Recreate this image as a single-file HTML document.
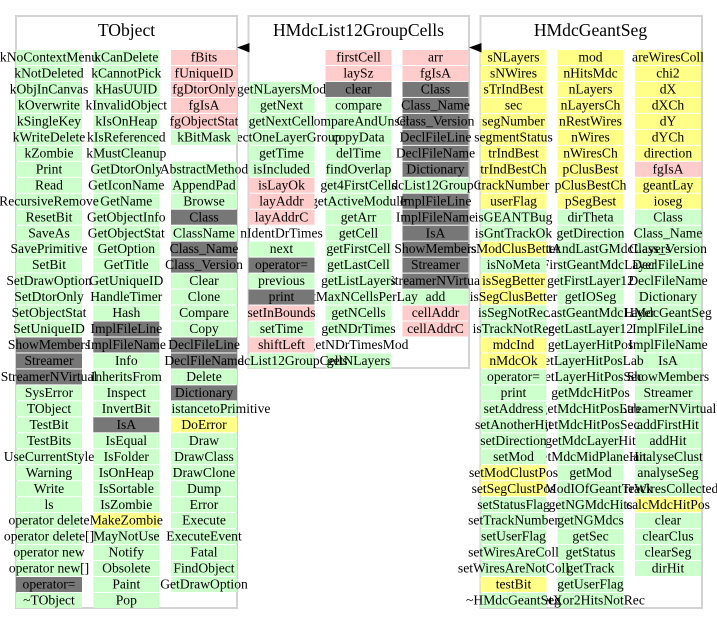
<!DOCTYPE html>
<html>
<head>
<meta charset="utf-8">
<style>
html,body{margin:0;padding:0;background:#fff;}
svg{display:block;}
text{font-family:"Liberation Serif","Times New Roman",serif;font-size:13.6px;fill:#000;text-anchor:middle;}
text.t{font-size:17.6px;}
rect.g{fill:#ccffcc;}
rect.p{fill:#ffcccc;}
rect.y{fill:#ffff88;}
rect.d{fill:#777777;}
rect.box{fill:none;stroke:#d3d3d3;stroke-width:2;}
</style>
</head>
<body>
<svg width="717" height="624" viewBox="0 0 717 624" xmlns="http://www.w3.org/2000/svg">
<rect x="0" y="0" width="717" height="624" fill="#fff"/>

<!-- ===== Middle box: HMdcList12GroupCells ===== -->
<rect class="box" x="248.5" y="16" width="220.5" height="352"/>
<text class="t" x="358.5" y="36">HMdcList12GroupCells</text>
<!-- col3 -->
<g transform="translate(402.5,50)">
<rect class="p" y="0" width="66" height="15"/><text x="33" y="11.6">arr</text>
<rect class="p" y="15.97" width="66" height="15"/><text x="33" y="27.57">fgIsA</text>
<rect class="d" y="31.94" width="66" height="15"/><text x="33" y="43.54">Class</text>
<rect class="d" y="47.91" width="66" height="15"/><text x="33" y="59.51">Class_Name</text>
<rect class="d" y="63.88" width="66" height="15"/><text x="33" y="75.48">Class_Version</text>
<rect class="d" y="79.85" width="66" height="15"/><text x="33" y="91.45">DeclFileLine</text>
<rect class="d" y="95.82" width="66" height="15"/><text x="33" y="107.42">DeclFileName</text>
<rect class="d" y="111.79" width="66" height="15"/><text x="33" y="123.39">Dictionary</text>
<rect class="g" y="127.76" width="66" height="15"/><text x="33" y="139.36">HMdcList12GroupCells</text>
<rect class="d" y="143.73" width="66" height="15"/><text x="33" y="155.33">ImplFileLine</text>
<rect class="d" y="159.7" width="66" height="15"/><text x="33" y="171.3">ImplFileName</text>
<rect class="d" y="175.67" width="66" height="15"/><text x="33" y="187.27">IsA</text>
<rect class="d" y="191.64" width="66" height="15"/><text x="33" y="203.24">ShowMembers</text>
<rect class="d" y="207.61" width="66" height="15"/><text x="33" y="219.21">Streamer</text>
<rect class="d" y="223.58" width="66" height="15"/><text x="33" y="235.18">StreamerNVirtual</text>
<rect class="g" y="239.55" width="66" height="15"/><text x="33" y="251.15">add</text>
<rect class="p" y="255.52" width="66" height="15"/><text x="33" y="267.12">cellAddr</text>
<rect class="p" y="271.49" width="66" height="15"/><text x="33" y="283.09">cellAddrC</text>
</g>
<!-- col2 -->
<g transform="translate(325.5,50)">
<rect class="p" y="0" width="66" height="15"/><text x="33" y="11.6">firstCell</text>
<rect class="p" y="15.97" width="66" height="15"/><text x="33" y="27.57">laySz</text>
<rect class="d" y="31.94" width="66" height="15"/><text x="33" y="43.54">clear</text>
<rect class="g" y="47.91" width="66" height="15"/><text x="33" y="59.51">compare</text>
<rect class="g" y="63.88" width="66" height="15"/><text x="33" y="75.48">compareAndUnset</text>
<rect class="g" y="79.85" width="66" height="15"/><text x="33" y="91.45">copyData</text>
<rect class="g" y="95.82" width="66" height="15"/><text x="33" y="107.42">delTime</text>
<rect class="g" y="111.79" width="66" height="15"/><text x="33" y="123.39">findOverlap</text>
<rect class="g" y="127.76" width="66" height="15"/><text x="33" y="139.36">get4FirstCells</text>
<rect class="g" y="143.73" width="66" height="15"/><text x="33" y="155.33">getActiveModule</text>
<rect class="g" y="159.7" width="66" height="15"/><text x="33" y="171.3">getArr</text>
<rect class="g" y="175.67" width="66" height="15"/><text x="33" y="187.27">getCell</text>
<rect class="g" y="191.64" width="66" height="15"/><text x="33" y="203.24">getFirstCell</text>
<rect class="g" y="207.61" width="66" height="15"/><text x="33" y="219.21">getLastCell</text>
<rect class="g" y="223.58" width="66" height="15"/><text x="33" y="235.18">getListLayers</text>
<rect class="g" y="239.55" width="66" height="15"/><text x="33" y="251.15">getMaxNCellsPerLay</text>
<rect class="g" y="255.52" width="66" height="15"/><text x="33" y="267.12">getNCells</text>
<rect class="g" y="271.49" width="66" height="15"/><text x="33" y="283.09">getNDrTimes</text>
<text x="33" y="299.06">getNDrTimesMod</text>
<rect class="g" y="303.43" width="66" height="15"/><text x="33" y="315.03">getNLayers</text>
</g>
<!-- col1 -->
<g transform="translate(248.5,50)">
<rect class="g" y="31.94" width="66" height="15"/><text x="33" y="43.54">getNLayersMod</text>
<rect class="g" y="47.91" width="66" height="15"/><text x="33" y="59.51">getNext</text>
<rect class="g" y="63.88" width="66" height="15"/><text x="33" y="75.48">getNextCell</text>
<rect class="g" y="79.85" width="66" height="15"/><text x="33" y="91.45">selectOneLayerGroup</text>
<rect class="g" y="95.82" width="66" height="15"/><text x="33" y="107.42">getTime</text>
<rect class="g" y="111.79" width="66" height="15"/><text x="33" y="123.39">isIncluded</text>
<rect class="p" y="127.76" width="66" height="15"/><text x="33" y="139.36">isLayOk</text>
<rect class="p" y="143.73" width="66" height="15"/><text x="33" y="155.33">layAddr</text>
<rect class="p" y="159.7" width="66" height="15"/><text x="33" y="171.3">layAddrC</text>
<text x="33" y="187.27">nIdentDrTimes</text>
<rect class="g" y="191.64" width="66" height="15"/><text x="33" y="203.24">next</text>
<rect class="d" y="207.61" width="66" height="15"/><text x="33" y="219.21">operator=</text>
<rect class="g" y="223.58" width="66" height="15"/><text x="33" y="235.18">previous</text>
<rect class="d" y="239.55" width="66" height="15"/><text x="33" y="251.15">print</text>
<rect class="p" y="255.52" width="66" height="15"/><text x="33" y="267.12">setInBounds</text>
<rect class="g" y="271.49" width="66" height="15"/><text x="33" y="283.09">setTime</text>
<rect class="p" y="287.46" width="66" height="15"/><text x="33" y="299.06">shiftLeft</text>
<rect class="g" y="303.43" width="66" height="15"/><text x="33" y="315.03">HMdcList12GroupCells</text>
</g>

<!-- ===== TObject ===== -->
<rect class="box" x="16" y="16" width="221" height="592"/>
<text class="t" x="126.5" y="36">TObject</text>
<!-- col3 -->
<g transform="translate(171,50)">
<rect class="p" y="0" width="66" height="15"/><text x="33" y="11.6">fBits</text>
<rect class="p" y="15.97" width="66" height="15"/><text x="33" y="27.57">fUniqueID</text>
<rect class="p" y="31.94" width="66" height="15"/><text x="33" y="43.54">fgDtorOnly</text>
<rect class="p" y="47.91" width="66" height="15"/><text x="33" y="59.51">fgIsA</text>
<rect class="p" y="63.88" width="66" height="15"/><text x="33" y="75.48">fgObjectStat</text>
<rect class="g" y="79.85" width="66" height="15"/><text x="33" y="91.45">kBitMask</text>
<rect class="g" y="111.79" width="66" height="15"/><text x="33" y="123.39">AbstractMethod</text>
<rect class="g" y="127.76" width="66" height="15"/><text x="33" y="139.36">AppendPad</text>
<rect class="g" y="143.73" width="66" height="15"/><text x="33" y="155.33">Browse</text>
<rect class="d" y="159.7" width="66" height="15"/><text x="33" y="171.3">Class</text>
<rect class="g" y="175.67" width="66" height="15"/><text x="33" y="187.27">ClassName</text>
<rect class="d" y="191.64" width="66" height="15"/><text x="33" y="203.24">Class_Name</text>
<rect class="d" y="207.61" width="66" height="15"/><text x="33" y="219.21">Class_Version</text>
<rect class="g" y="223.58" width="66" height="15"/><text x="33" y="235.18">Clear</text>
<rect class="g" y="239.55" width="66" height="15"/><text x="33" y="251.15">Clone</text>
<rect class="g" y="255.52" width="66" height="15"/><text x="33" y="267.12">Compare</text>
<rect class="g" y="271.49" width="66" height="15"/><text x="33" y="283.09">Copy</text>
<rect class="d" y="287.46" width="66" height="15"/><text x="33" y="299.06">DeclFileLine</text>
<rect class="d" y="303.43" width="66" height="15"/><text x="33" y="315.03">DeclFileName</text>
<rect class="g" y="319.4" width="66" height="15"/><text x="33" y="331">Delete</text>
<rect class="d" y="335.37" width="66" height="15"/><text x="33" y="346.97">Dictionary</text>
<rect class="g" y="351.34" width="66" height="15"/><text x="0.5" y="362.94" style="text-anchor:start">istancetoPrimitive</text>
<rect class="y" y="367.31" width="66" height="15"/><text x="33" y="378.91">DoError</text>
<rect class="g" y="383.28" width="66" height="15"/><text x="33" y="394.88">Draw</text>
<rect class="g" y="399.25" width="66" height="15"/><text x="33" y="410.85">DrawClass</text>
<rect class="g" y="415.22" width="66" height="15"/><text x="33" y="426.82">DrawClone</text>
<rect class="g" y="431.19" width="66" height="15"/><text x="33" y="442.79">Dump</text>
<rect class="g" y="447.16" width="66" height="15"/><text x="33" y="458.76">Error</text>
<rect class="g" y="463.13" width="66" height="15"/><text x="33" y="474.73">Execute</text>
<rect class="g" y="479.1" width="66" height="15"/><text x="33" y="490.7">ExecuteEvent</text>
<rect class="g" y="495.07" width="66" height="15"/><text x="33" y="506.67">Fatal</text>
<rect class="g" y="511.04" width="66" height="15"/><text x="33" y="522.64">FindObject</text>
<rect class="g" y="527.01" width="66" height="15"/><text x="33" y="538.61">GetDrawOption</text>
</g>
<!-- col2 -->
<g transform="translate(93.3,50)">
<rect class="g" y="0" width="66" height="15"/><text x="33" y="11.6">kCanDelete</text>
<rect class="g" y="15.97" width="66" height="15"/><text x="33" y="27.57">kCannotPick</text>
<rect class="g" y="31.94" width="66" height="15"/><text x="33" y="43.54">kHasUUID</text>
<rect class="g" y="47.91" width="66" height="15"/><text x="33" y="59.51">kInvalidObject</text>
<rect class="g" y="63.88" width="66" height="15"/><text x="33" y="75.48">kIsOnHeap</text>
<rect class="g" y="79.85" width="66" height="15"/><text x="33" y="91.45">kIsReferenced</text>
<rect class="g" y="95.82" width="66" height="15"/><text x="33" y="107.42">kMustCleanup</text>
<rect class="g" y="111.79" width="66" height="15"/><text x="33" y="123.39">GetDtorOnly</text>
<rect class="g" y="127.76" width="66" height="15"/><text x="33" y="139.36">GetIconName</text>
<rect class="g" y="143.73" width="66" height="15"/><text x="33" y="155.33">GetName</text>
<rect class="g" y="159.7" width="66" height="15"/><text x="33" y="171.3">GetObjectInfo</text>
<rect class="g" y="175.67" width="66" height="15"/><text x="33" y="187.27">GetObjectStat</text>
<rect class="g" y="191.64" width="66" height="15"/><text x="33" y="203.24">GetOption</text>
<rect class="g" y="207.61" width="66" height="15"/><text x="33" y="219.21">GetTitle</text>
<rect class="g" y="223.58" width="66" height="15"/><text x="33" y="235.18">GetUniqueID</text>
<rect class="g" y="239.55" width="66" height="15"/><text x="33" y="251.15">HandleTimer</text>
<rect class="g" y="255.52" width="66" height="15"/><text x="33" y="267.12">Hash</text>
<rect class="d" y="271.49" width="66" height="15"/><text x="33" y="283.09">ImplFileLine</text>
<rect class="d" y="287.46" width="66" height="15"/><text x="33" y="299.06">ImplFileName</text>
<rect class="g" y="303.43" width="66" height="15"/><text x="33" y="315.03">Info</text>
<rect class="g" y="319.4" width="66" height="15"/><text x="33" y="331">InheritsFrom</text>
<rect class="g" y="335.37" width="66" height="15"/><text x="33" y="346.97">Inspect</text>
<rect class="g" y="351.34" width="66" height="15"/><text x="33" y="362.94">InvertBit</text>
<rect class="d" y="367.31" width="66" height="15"/><text x="33" y="378.91">IsA</text>
<rect class="g" y="383.28" width="66" height="15"/><text x="33" y="394.88">IsEqual</text>
<rect class="g" y="399.25" width="66" height="15"/><text x="33" y="410.85">IsFolder</text>
<rect class="g" y="415.22" width="66" height="15"/><text x="33" y="426.82">IsOnHeap</text>
<rect class="g" y="431.19" width="66" height="15"/><text x="33" y="442.79">IsSortable</text>
<rect class="g" y="447.16" width="66" height="15"/><text x="33" y="458.76">IsZombie</text>
<rect class="y" y="463.13" width="66" height="15"/><text x="33" y="474.73">MakeZombie</text>
<rect class="g" y="479.1" width="66" height="15"/><text x="33" y="490.7">MayNotUse</text>
<rect class="g" y="495.07" width="66" height="15"/><text x="33" y="506.67">Notify</text>
<rect class="g" y="511.04" width="66" height="15"/><text x="33" y="522.64">Obsolete</text>
<rect class="g" y="527.01" width="66" height="15"/><text x="33" y="538.61">Paint</text>
<rect class="g" y="542.98" width="66" height="15"/><text x="33" y="554.58">Pop</text>
</g>
<!-- col1 -->
<g transform="translate(16,50)">
<rect class="g" y="0" width="66" height="15"/><text x="33" y="11.6">kNoContextMenu</text>
<rect class="g" y="15.97" width="66" height="15"/><text x="33" y="27.57">kNotDeleted</text>
<rect class="g" y="31.94" width="66" height="15"/><text x="33" y="43.54">kObjInCanvas</text>
<rect class="g" y="47.91" width="66" height="15"/><text x="33" y="59.51">kOverwrite</text>
<rect class="g" y="63.88" width="66" height="15"/><text x="33" y="75.48">kSingleKey</text>
<rect class="g" y="79.85" width="66" height="15"/><text x="33" y="91.45">kWriteDelete</text>
<rect class="g" y="95.82" width="66" height="15"/><text x="33" y="107.42">kZombie</text>
<rect class="g" y="111.79" width="66" height="15"/><text x="33" y="123.39">Print</text>
<rect class="g" y="127.76" width="66" height="15"/><text x="33" y="139.36">Read</text>
<rect class="g" y="143.73" width="66" height="15"/><text x="33" y="155.33">RecursiveRemove</text>
<rect class="g" y="159.7" width="66" height="15"/><text x="33" y="171.3">ResetBit</text>
<rect class="g" y="175.67" width="66" height="15"/><text x="33" y="187.27">SaveAs</text>
<rect class="g" y="191.64" width="66" height="15"/><text x="33" y="203.24">SavePrimitive</text>
<rect class="g" y="207.61" width="66" height="15"/><text x="33" y="219.21">SetBit</text>
<rect class="g" y="223.58" width="66" height="15"/><text x="33" y="235.18">SetDrawOption</text>
<rect class="g" y="239.55" width="66" height="15"/><text x="33" y="251.15">SetDtorOnly</text>
<rect class="g" y="255.52" width="66" height="15"/><text x="33" y="267.12">SetObjectStat</text>
<rect class="g" y="271.49" width="66" height="15"/><text x="33" y="283.09">SetUniqueID</text>
<rect class="d" y="287.46" width="66" height="15"/><text x="33" y="299.06">ShowMembers</text>
<rect class="d" y="303.43" width="66" height="15"/><text x="33" y="315.03">Streamer</text>
<rect class="d" y="319.4" width="66" height="15"/><text x="33" y="331">StreamerNVirtual</text>
<rect class="g" y="335.37" width="66" height="15"/><text x="33" y="346.97">SysError</text>
<rect class="g" y="351.34" width="66" height="15"/><text x="33" y="362.94">TObject</text>
<rect class="g" y="367.31" width="66" height="15"/><text x="33" y="378.91">TestBit</text>
<rect class="g" y="383.28" width="66" height="15"/><text x="33" y="394.88">TestBits</text>
<rect class="g" y="399.25" width="66" height="15"/><text x="33" y="410.85">UseCurrentStyle</text>
<rect class="g" y="415.22" width="66" height="15"/><text x="33" y="426.82">Warning</text>
<rect class="g" y="431.19" width="66" height="15"/><text x="33" y="442.79">Write</text>
<rect class="g" y="447.16" width="66" height="15"/><text x="33" y="458.76">ls</text>
<rect class="g" y="463.13" width="66" height="15"/><text x="33" y="474.73">operator delete</text>
<rect class="g" y="479.1" width="66" height="15"/><text x="33" y="490.7">operator delete[]</text>
<rect class="g" y="495.07" width="66" height="15"/><text x="33" y="506.67">operator new</text>
<rect class="g" y="511.04" width="66" height="15"/><text x="33" y="522.64">operator new[]</text>
<rect class="d" y="527.01" width="66" height="15"/><text x="33" y="538.61">operator=</text>
<rect class="g" y="542.98" width="66" height="15"/><text x="33" y="554.58">~TObject</text>
</g>

<!-- ===== Right box: HMdcGeantSeg ===== -->
<rect class="box" x="480.5" y="16" width="221.5" height="592"/>
<text class="t" x="590.5" y="36">HMdcGeantSeg</text>
<!-- col3 -->
<g transform="translate(635,50)">
<rect class="y" y="0" width="66" height="15"/><text x="33" y="11.6">areWiresColl</text>
<rect class="y" y="15.97" width="66" height="15"/><text x="33" y="27.57">chi2</text>
<rect class="y" y="31.94" width="66" height="15"/><text x="33" y="43.54">dX</text>
<rect class="y" y="47.91" width="66" height="15"/><text x="33" y="59.51">dXCh</text>
<rect class="y" y="63.88" width="66" height="15"/><text x="33" y="75.48">dY</text>
<rect class="y" y="79.85" width="66" height="15"/><text x="33" y="91.45">dYCh</text>
<rect class="y" y="95.82" width="66" height="15"/><text x="33" y="107.42">direction</text>
<rect class="p" y="111.79" width="66" height="15"/><text x="33" y="123.39">fgIsA</text>
<rect class="y" y="127.76" width="66" height="15"/><text x="33" y="139.36">geantLay</text>
<rect class="y" y="143.73" width="66" height="15"/><text x="33" y="155.33">ioseg</text>
<rect class="g" y="159.7" width="66" height="15"/><text x="33" y="171.3">Class</text>
<rect class="g" y="175.67" width="66" height="15"/><text x="33" y="187.27">Class_Name</text>
<rect class="g" y="191.64" width="66" height="15"/><text x="33" y="203.24">Class_Version</text>
<rect class="g" y="207.61" width="66" height="15"/><text x="33" y="219.21">DeclFileLine</text>
<rect class="g" y="223.58" width="66" height="15"/><text x="33" y="235.18">DeclFileName</text>
<rect class="g" y="239.55" width="66" height="15"/><text x="33" y="251.15">Dictionary</text>
<rect class="g" y="255.52" width="66" height="15"/><text x="33" y="267.12">HMdcGeantSeg</text>
<rect class="g" y="271.49" width="66" height="15"/><text x="33" y="283.09">ImplFileLine</text>
<rect class="g" y="287.46" width="66" height="15"/><text x="33" y="299.06">ImplFileName</text>
<rect class="g" y="303.43" width="66" height="15"/><text x="33" y="315.03">IsA</text>
<rect class="g" y="319.4" width="66" height="15"/><text x="33" y="331">ShowMembers</text>
<rect class="g" y="335.37" width="66" height="15"/><text x="33" y="346.97">Streamer</text>
<rect class="g" y="351.34" width="66" height="15"/><text x="33" y="362.94">StreamerNVirtual</text>
<rect class="g" y="367.31" width="66" height="15"/><text x="33" y="378.91">addFirstHit</text>
<rect class="g" y="383.28" width="66" height="15"/><text x="33" y="394.88">addHit</text>
<rect class="g" y="399.25" width="66" height="15"/><text x="33" y="410.85">analyseClust</text>
<rect class="g" y="415.22" width="66" height="15"/><text x="33" y="426.82">analyseSeg</text>
<rect class="g" y="431.19" width="66" height="15"/><text x="33" y="442.79">areWiresCollected</text>
<rect class="y" y="447.16" width="66" height="15"/><text x="33" y="458.76">calcMdcHitPos</text>
<rect class="g" y="463.13" width="66" height="15"/><text x="33" y="474.73">clear</text>
<rect class="g" y="479.1" width="66" height="15"/><text x="33" y="490.7">clearClus</text>
<rect class="g" y="495.07" width="66" height="15"/><text x="33" y="506.67">clearSeg</text>
<rect class="g" y="511.04" width="66" height="15"/><text x="33" y="522.64">dirHit</text>
</g>
<!-- col2 -->
<g transform="translate(557.5,50)">
<rect class="y" y="0" width="66" height="15"/><text x="33" y="11.6">mod</text>
<rect class="y" y="15.97" width="66" height="15"/><text x="33" y="27.57">nHitsMdc</text>
<rect class="y" y="31.94" width="66" height="15"/><text x="33" y="43.54">nLayers</text>
<rect class="y" y="47.91" width="66" height="15"/><text x="33" y="59.51">nLayersCh</text>
<rect class="y" y="63.88" width="66" height="15"/><text x="33" y="75.48">nRestWires</text>
<rect class="y" y="79.85" width="66" height="15"/><text x="33" y="91.45">nWires</text>
<rect class="y" y="95.82" width="66" height="15"/><text x="33" y="107.42">nWiresCh</text>
<rect class="y" y="111.79" width="66" height="15"/><text x="33" y="123.39">pClusBest</text>
<rect class="y" y="127.76" width="66" height="15"/><text x="33" y="139.36">pClusBestCh</text>
<rect class="y" y="143.73" width="66" height="15"/><text x="33" y="155.33">pSegBest</text>
<rect class="g" y="159.7" width="66" height="15"/><text x="33" y="171.3">dirTheta</text>
<rect class="g" y="175.67" width="66" height="15"/><text x="33" y="187.27">getDirection</text>
<rect class="g" y="191.64" width="66" height="15"/><text x="33" y="203.24">getFirstAndLastGMdcLayers</text>
<rect class="g" y="207.61" width="66" height="15"/><text x="33" y="219.21">getFirstGeantMdcLayer</text>
<rect class="g" y="223.58" width="66" height="15"/><text x="33" y="235.18">getFirstLayer12</text>
<rect class="g" y="239.55" width="66" height="15"/><text x="33" y="251.15">getIOSeg</text>
<rect class="g" y="255.52" width="66" height="15"/><text x="33" y="267.12">getLastGeantMdcLayer</text>
<rect class="g" y="271.49" width="66" height="15"/><text x="33" y="283.09">getLastLayer12</text>
<rect class="g" y="287.46" width="66" height="15"/><text x="33" y="299.06">getLayerHitPos</text>
<rect class="g" y="303.43" width="66" height="15"/><text x="33" y="315.03">getLayerHitPosLab</text>
<rect class="g" y="319.4" width="66" height="15"/><text x="33" y="331">getLayerHitPosSec</text>
<rect class="g" y="335.37" width="66" height="15"/><text x="33" y="346.97">getMdcHitPos</text>
<rect class="g" y="351.34" width="66" height="15"/><text x="33" y="362.94">getMdcHitPosLab</text>
<rect class="g" y="367.31" width="66" height="15"/><text x="33" y="378.91">getMdcHitPosSec</text>
<rect class="g" y="383.28" width="66" height="15"/><text x="33" y="394.88">getMdcLayerHit</text>
<rect class="g" y="399.25" width="66" height="15"/><text x="33" y="410.85">getMdcMidPlaneHit</text>
<rect class="g" y="415.22" width="66" height="15"/><text x="33" y="426.82">getMod</text>
<rect class="g" y="431.19" width="66" height="15"/><text x="33" y="442.79">getModIOfGeantTrack</text>
<rect class="g" y="447.16" width="66" height="15"/><text x="33" y="458.76">getNGMdcHits</text>
<rect class="g" y="463.13" width="66" height="15"/><text x="33" y="474.73">getNGMdcs</text>
<rect class="g" y="479.1" width="66" height="15"/><text x="33" y="490.7">getSec</text>
<rect class="g" y="495.07" width="66" height="15"/><text x="33" y="506.67">getStatus</text>
<rect class="g" y="511.04" width="66" height="15"/><text x="33" y="522.64">getTrack</text>
<rect class="g" y="527.01" width="66" height="15"/><text x="33" y="538.61">getUserFlag</text>
<rect class="g" y="542.98" width="66" height="15"/><text x="33" y="554.58">getXor2HitsNotRec</text>
</g>
<!-- col1 -->
<g transform="translate(480.5,50)">
<rect class="y" y="0" width="66" height="15"/><text x="33" y="11.6">sNLayers</text>
<rect class="y" y="15.97" width="66" height="15"/><text x="33" y="27.57">sNWires</text>
<rect class="y" y="31.94" width="66" height="15"/><text x="33" y="43.54">sTrIndBest</text>
<rect class="y" y="47.91" width="66" height="15"/><text x="33" y="59.51">sec</text>
<rect class="y" y="63.88" width="66" height="15"/><text x="33" y="75.48">segNumber</text>
<rect class="y" y="79.85" width="66" height="15"/><text x="33" y="91.45">segmentStatus</text>
<rect class="y" y="95.82" width="66" height="15"/><text x="33" y="107.42">trIndBest</text>
<rect class="y" y="111.79" width="66" height="15"/><text x="33" y="123.39">trIndBestCh</text>
<rect class="y" y="127.76" width="66" height="15"/><text x="33" y="139.36">trackNumber</text>
<rect class="y" y="143.73" width="66" height="15"/><text x="33" y="155.33">userFlag</text>
<rect class="g" y="159.7" width="66" height="15"/><text x="33" y="171.3">isGEANTBug</text>
<rect class="g" y="175.67" width="66" height="15"/><text x="33" y="187.27">isGntTrackOk</text>
<rect class="y" y="191.64" width="66" height="15"/><text x="33" y="203.24">isModClusBetter</text>
<rect class="g" y="207.61" width="66" height="15"/><text x="33" y="219.21">isNoMeta</text>
<rect class="y" y="223.58" width="66" height="15"/><text x="33" y="235.18">isSegBetter</text>
<rect class="y" y="239.55" width="66" height="15"/><text x="33" y="251.15">isSegClusBetter</text>
<rect class="g" y="255.52" width="66" height="15"/><text x="33" y="267.12">isSegNotRec</text>
<rect class="g" y="271.49" width="66" height="15"/><text x="33" y="283.09">isTrackNotRec</text>
<rect class="y" y="287.46" width="66" height="15"/><text x="33" y="299.06">mdcInd</text>
<rect class="y" y="303.43" width="66" height="15"/><text x="33" y="315.03">nMdcOk</text>
<rect class="g" y="319.4" width="66" height="15"/><text x="33" y="331">operator=</text>
<rect class="g" y="335.37" width="66" height="15"/><text x="33" y="346.97">print</text>
<rect class="g" y="351.34" width="66" height="15"/><text x="33" y="362.94">setAddress</text>
<rect class="g" y="367.31" width="66" height="15"/><text x="33" y="378.91">setAnotherHit</text>
<rect class="g" y="383.28" width="66" height="15"/><text x="33" y="394.88">setDirection</text>
<rect class="g" y="399.25" width="66" height="15"/><text x="33" y="410.85">setMod</text>
<rect class="y" y="415.22" width="66" height="15"/><text x="33" y="426.82">setModClustPos</text>
<rect class="y" y="431.19" width="66" height="15"/><text x="33" y="442.79">setSegClustPos</text>
<rect class="g" y="447.16" width="66" height="15"/><text x="33" y="458.76">setStatusFlag</text>
<rect class="g" y="463.13" width="66" height="15"/><text x="33" y="474.73">setTrackNumber</text>
<rect class="g" y="479.1" width="66" height="15"/><text x="33" y="490.7">setUserFlag</text>
<rect class="g" y="495.07" width="66" height="15"/><text x="33" y="506.67">setWiresAreColl</text>
<rect class="g" y="511.04" width="66" height="15"/><text x="33" y="522.64">setWiresAreNotColl</text>
<rect class="y" y="527.01" width="66" height="15"/><text x="33" y="538.61">testBit</text>
<rect class="g" y="542.98" width="66" height="15"/><text x="33" y="554.58">~HMdcGeantSeg</text>
</g>

<!-- inheritance arrows -->
<polygon points="237,47.5 249.5,43 249.5,52.5" fill="#000"/>
<polygon points="469,47.5 481.5,43 481.5,52.5" fill="#000"/>
</svg>
</body>
</html>
